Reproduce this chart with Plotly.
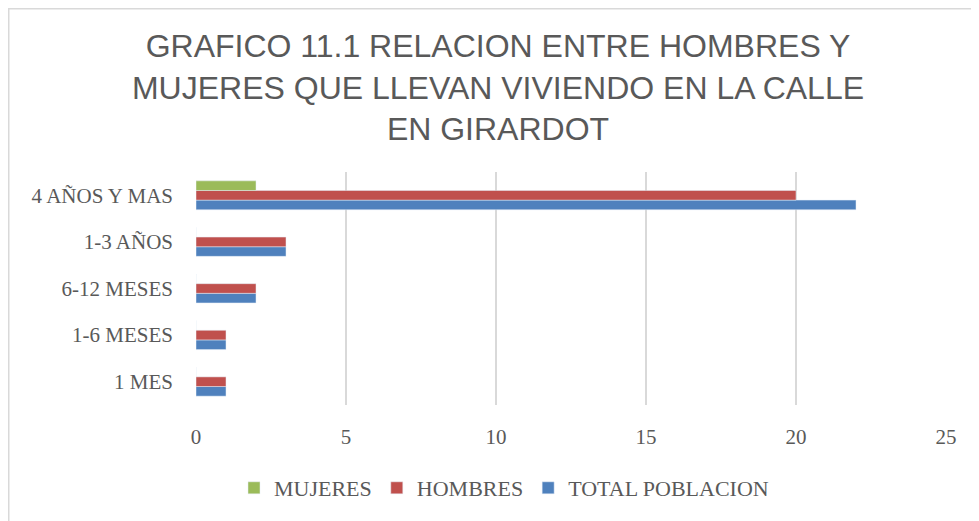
import plotly.graph_objects as go

categories = ["1 MES", "1-6 MESES", "6-12 MESES", "1-3 AÑOS", "4 AÑOS Y MAS"]
mujeres = [0, 0, 0, 0, 2]
hombres = [1, 1, 2, 3, 20]
total = [1, 1, 2, 3, 22]
x_ticks = [0, 5, 10, 15, 20, 25]

title_text = ("GRAFICO 11.1 RELACION ENTRE HOMBRES Y<br>"
              "MUJERES QUE LLEVAN VIVIENDO EN LA CALLE<br>EN GIRARDOT")

fig = go.Figure()
fig.add_trace(go.Bar(y=categories, x=total, name="TOTAL POBLACION", orientation="h",
                     marker=dict(color="#4F81BD")))
fig.add_trace(go.Bar(y=categories, x=hombres, name="HOMBRES", orientation="h",
                     marker=dict(color="#C0504D")))
fig.add_trace(go.Bar(y=categories, x=mujeres, name="MUJERES", orientation="h",
                     marker=dict(color="#9BBB59")))

serif = "Liberation Serif, DejaVu Serif, serif"

W, H = 979, 521
ML, MR, MT, MB = 188, 41, 164, 124
PW, PH = W - ML - MR, H - MT - MB

fig.update_layout(
    width=W, height=H,
    paper_bgcolor="white", plot_bgcolor="white",
    margin=dict(l=ML, r=MR, t=MT, b=MB),
    barmode="group", bargap=0.38, bargroupgap=0,
    title=dict(text=title_text, x=490 / W, xref="container", y=1 - 49 / H,
               yref="container", xanchor="center", yanchor="middle",
               font=dict(family="Liberation Sans, Arial, sans-serif", size=32, color="#595959")),
    xaxis=dict(range=[0, 25], tickvals=x_ticks, showgrid=True, gridcolor="#D9D9D9",
               gridwidth=1.5, zeroline=False, showline=False, ticks="",
               ticklabelstandoff=17,
               tickfont=dict(family=serif, size=21, color="#595959")),
    yaxis=dict(categoryorder="array", categoryarray=categories, showgrid=False,
               zeroline=False, showline=False, ticks="", ticklabelstandoff=22,
               tickfont=dict(family=serif, size=21, color="#595959")),
    legend=dict(orientation="h", traceorder="reversed", x=496 / W, xref="container",
                xanchor="center", y=1 - 480 / H, yref="container", yanchor="middle",
                font=dict(family=serif, size=22, color="#595959")),
    showlegend=True,
    shapes=[dict(type="rect", xref="paper", yref="paper",
                 x0=(0.5 - ML) / PW, x1=(W + 20 - ML) / PW,
                 y0=-(MB + 20) / PH, y1=(PH + MT - 0.5) / PH,
                 line=dict(color="#D9D9D9", width=2), fillcolor="rgba(0,0,0,0)",
                 layer="below")],
)
fig.write_html("out.html")
